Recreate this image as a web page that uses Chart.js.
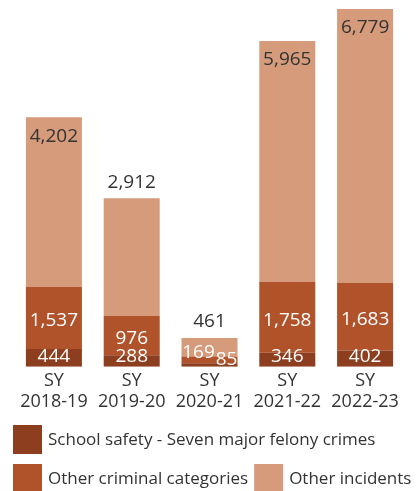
<!DOCTYPE html>
<html>
<head>
<meta charset="utf-8">
<script src="https://cdn.jsdelivr.net/npm/chart.js@4.4.1/dist/chart.umd.min.js"></script>
<style>
  html, body { margin: 0; padding: 0; background: #fff; }
  canvas { display: block; }
</style>
</head>
<body>
<canvas id="incidentsChart" width="420" height="491"></canvas>
<script>
// School years on the x axis (two-line labels)
var schoolYears = [['SY', '2018-19'], ['SY', '2019-20'], ['SY', '2020-21'], ['SY', '2021-22'], ['SY', '2022-23']];

// Incident counts per school year
var majorFelonies = [444, 288, 85, 346, 402];
var otherCriminal = [1537, 976, 169, 1758, 1683];
var otherIncidents = [4202, 2912, 461, 5965, 6779];

var seriesNames = ['School safety - Seven major felony crimes', 'Other criminal categories', 'Other incidents'];
var seriesColors = ['#8c3e1f', '#b0532a', '#d59b7a'];

var labelFont = '"Open Sans", "Noto Sans", sans-serif';
var darkText = '#333333';

// Top value of these bars sits above the bar instead of inside it
var topLabelAbove = [false, true, true, false, false];

// Tallest stack sets the y range
var totals = otherIncidents.map(function (v, i) { return v + otherCriminal[i] + majorFelonies[i]; });
var yMax = Math.max.apply(null, totals);

function fmt(v) {
    return v.toLocaleString('en-US');
}

// Writes the value of every segment on the bars
var valueLabels = {
    id: 'valueLabels',
    afterDatasetsDraw: function (chart) {
        var ctx = chart.ctx;
        ctx.save();
        ctx.font = '19px ' + labelFont;
        ctx.textAlign = 'center';
        ctx.textBaseline = 'middle';
        chart.data.datasets.forEach(function (ds, di) {
            var meta = chart.getDatasetMeta(di);
            meta.data.forEach(function (bar, j) {
                var top = bar.y, bottom = bar.base;
                var mid = (top + bottom) / 2;
                var x = bar.x, y;
                var stackTop = chart.getDatasetMeta(2).data[j].y;
                var thin = (bottom - stackTop) < 40;
                if (di === 2) {
                    ctx.fillStyle = darkText;
                    y = topLabelAbove[j] ? top - 16 : top + 19;
                } else {
                    ctx.fillStyle = '#ffffff';
                    if (thin) {
                        // tiny stack: put the two small numbers side by side
                        x = di === 1 ? bar.x - 11 : bar.x + 17;
                        y = di === 1 ? bottom - 11 : bottom - 7;
                    } else if (di === 1) {
                        y = mid + 3;
                    } else {
                        y = Math.min(mid, bottom - 10);
                    }
                }
                ctx.fillText(fmt(ds.data[j]), x, y);
            });
        });
        ctx.restore();
    }
};

// Legend boxes under the axis, flowing left to right
var boxLegend = {
    id: 'boxLegend',
    afterDraw: function (chart) {
        var ctx = chart.ctx;
        var box = 29, gap = 6, rowH = 39;
        var x = 13, y = 425;
        ctx.save();
        ctx.font = '17px ' + labelFont;
        ctx.textBaseline = 'middle';
        ctx.textAlign = 'left';
        chart.data.datasets.forEach(function (ds, i) {
            var w = box + gap + ctx.measureText(ds.label).width;
            if (i > 0 && x + w > chart.width - 2) {
                x = 13;
                y += rowH;
            }
            ctx.fillStyle = ds.backgroundColor;
            ctx.fillRect(x, y, box, box);
            ctx.fillStyle = darkText;
            ctx.fillText(ds.label, x + box + gap, y + box / 2 + 1);
            x += w + gap;
        });
        ctx.restore();
    }
};

var ctx = document.getElementById('incidentsChart').getContext('2d');

var incidentsChart = new Chart(ctx, {
    type: 'bar',
    data: {
        labels: schoolYears,
        datasets: [
            { label: seriesNames[0], data: majorFelonies, backgroundColor: seriesColors[0] },
            { label: seriesNames[1], data: otherCriminal, backgroundColor: seriesColors[1] },
            { label: seriesNames[2], data: otherIncidents, backgroundColor: seriesColors[2] }
        ]
    },
    options: {
        responsive: false,
        animation: false,
        layout: { padding: { left: 15, right: 16, top: 9, bottom: 75 } },
        datasets: {
            bar: { barPercentage: 0.72, categoryPercentage: 1 }
        },
        plugins: {
            legend: { display: false },
            tooltip: { enabled: false }
        },
        scales: {
            x: {
                stacked: true,
                grid: { display: false, drawTicks: false },
                border: { display: false },
                ticks: {
                    color: darkText,
                    padding: 3,
                    font: { family: labelFont, size: 18 }
                }
            },
            y: {
                stacked: true,
                display: false,
                min: 0,
                max: yMax
            }
        }
    },
    plugins: [valueLabels, boxLegend]
});
</script>
</body>
</html>
